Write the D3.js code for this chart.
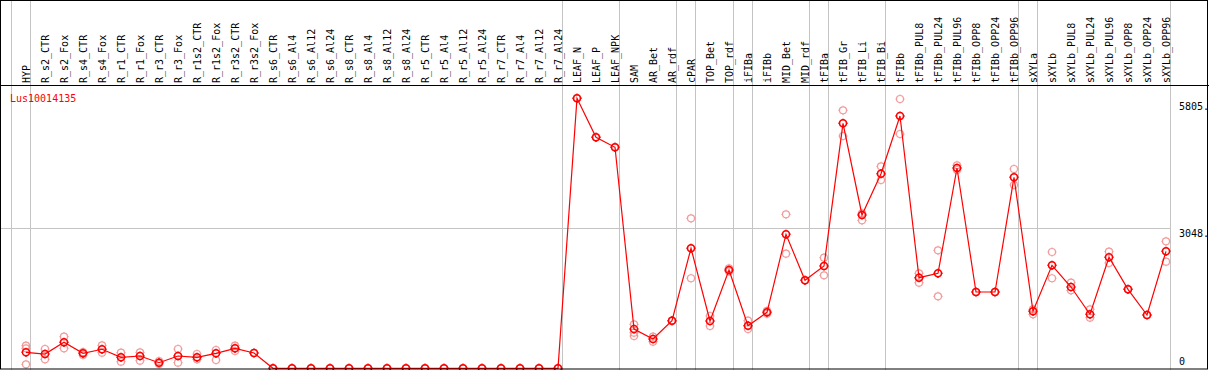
<!DOCTYPE html>
<html>
<head>
<meta charset="utf-8">
<script src="https://cdn.jsdelivr.net/npm/d3@7"></script>
<style>
  body { margin: 0; background: #fff; }
  svg { display: block; font-family: 'DejaVu Sans Mono', monospace; font-size: 10px; }
</style>
</head>
<body>
<div id="chart"></div>
<script>
// sample names along the top
const samples = ['HYP', 'R_s2_CTR', 'R_s2_Fox', 'R_s4_CTR', 'R_s4_Fox', 'R_r1_CTR', 'R_r1_Fox', 'R_r3_CTR', 'R_r3_Fox',
  'R_r1s2_CTR', 'R_r1s2_Fox', 'R_r3s2_CTR', 'R_r3s2_Fox', 'R_s6_CTR', 'R_s6_Al4', 'R_s6_Al12', 'R_s6_Al24',
  'R_s8_CTR', 'R_s8_Al4', 'R_s8_Al12', 'R_s8_Al24', 'R_r5_CTR', 'R_r5_Al4', 'R_r5_Al12', 'R_r5_Al24',
  'R_r7_CTR', 'R_r7_Al4', 'R_r7_Al12', 'R_r7_Al24', 'LEAF_N', 'LEAF_P', 'LEAF_NPK', 'SAM', 'AR_Bet', 'AR_rdf',
  'cPAR', 'TOP_Bet', 'TOP_rdf', 'iFIBa', 'iFIBb', 'MID_Bet', 'MID_rdf', 'tFIBa', 'tFIB_Gr', 'tFIB_Li', 'tFIB_Bi',
  'tFIBb', 'tFIBb_PUL8', 'tFIBb_PUL24', 'tFIBb_PUL96', 'tFIBb_OPP8', 'tFIBb_OPP24', 'tFIBb_OPP96',
  'sXYLa', 'sXYLb', 'sXYLb_PUL8', 'sXYLb_PUL24', 'sXYLb_PUL96', 'sXYLb_OPP8', 'sXYLb_OPP24', 'sXYLb_OPP96']

// mean expression per sample
const meanValues = [348, 311, 566, 326, 414, 240, 268, 122, 268, 240, 326, 435, 333,
  0, 0, 0, 0, 0, 0, 0, 0, 0, 0, 0, 0, 0, 0, 0, 0,
  5878, 5029, 4812, 855, 638, 1036, 2613, 1030, 2140, 927, 1219, 2917, 1916, 2227,
  5334, 3338, 4237, 5493, 1973, 2068, 4361, 1661, 1661, 4158,
  1241, 2242, 1770, 1176, 2417, 1720, 1160, 2547]

// individual replicates
const rep1 = [492, 420, 688, 350, 500, 340, 348, 159, 420, 311, 398, 492, 333,
  0, 0, 0, 0, 0, 0, 0, 0, 0, 0, 0, 0, 0, 0, 0, 0,
  5878, 5029, 4812, 958, 688, 1036, 3266, 1139, 2177, 1036, 1250, 3353, 1916, 2408,
  5617, 3375, 4398, 5863, 2068, 2569, 4420, 1661, 1661, 4339,
  1285, 2532, 1864, 1285, 2539, 1720, 1160, 2765]
const rep2 = [87, 196, 435, 290, 340, 144, 166, 94, 122, 196, 181, 377, 333,
  0, 0, 0, 0, 0, 0, 0, 0, 0, 0, 0, 0, 0, 0, 0, 0,
  5878, 5029, 4812, 703, 579, 1036, 1960, 921, 2110, 856, 1190, 2495, 1916, 2025,
  5058, 3222, 4100, 5101, 1864, 1568, 4317, 1661, 1661, 3991,
  1176, 1960, 1698, 1102, 2293, 1720, 1160, 2321]
const rep3 = [435, 311, 566, 326, 414, 240, 268, 122, 268, 240, 326, 435, 333,
  0, 0, 0, 0, 0, 0, 0, 0, 0, 0, 0, 0, 0, 0, 0, 0,
  5878, 5029, 4812, 775, 638, 1036, 2613, 1030, 2140, 927, 1219, 2917, 1916, 2227,
  5334, 3338, 4237, 5493, 1973, 2068, 4361, 1661, 1661, 4158,
  1241, 2242, 1770, 1176, 2417, 1720, 1160, 2547]

// samples after which a divider is drawn
const groupEnds = ['HYP', 'R_r7_Al24', 'LEAF_NPK', 'AR_rdf', 'cPAR', 'TOP_rdf', 'iFIBa', 'MID_rdf',
  'tFIBa', 'tFIB_Bi', 'tFIBb_OPP96', 'sXYLa', 'sXYLb_OPP96']
const yTicks = [0, 3048, 5805]
const geneName = 'Lus10014135'

const width = 1209
const height = 370
const headerBottom = 85

const svg = d3.select('#chart').append('svg')
  .attr('width', width)
  .attr('height', height)

const xScale = d3.scalePoint()
  .domain(samples)
  .range([26, 1166])

const yScale = d3.scaleLinear()
  .domain([0, 6096])
  .range([368.3, 88.3])

const step = xScale.step()
const plotRight = xScale(samples[samples.length - 1]) + 4

// vertical dividers
const dividerX = [xScale(samples[0]) - step + 4].concat(groupEnds.map(s => xScale(s) + 4))
svg.selectAll('.divider')
  .data(dividerX)
  .enter().append('line')
  .attr('class', 'divider')
  .attr('x1', d => Math.round(d) + 0.5)
  .attr('x2', d => Math.round(d) + 0.5)
  .attr('y1', 0)
  .attr('y2', height)
  .attr('stroke', '#c4c4c4')

// horizontal gridline at the middle tick
svg.append('line')
  .attr('x1', 0)
  .attr('x2', plotRight)
  .attr('y1', Math.round(yScale(yTicks[1])) + 0.5)
  .attr('y2', Math.round(yScale(yTicks[1])) + 0.5)
  .attr('stroke', '#c4c4c4')

// header line
svg.append('line')
  .attr('x1', 0).attr('x2', width)
  .attr('y1', headerBottom + 0.5).attr('y2', headerBottom + 0.5)
  .attr('stroke', '#000')

// sample labels
svg.selectAll('.sample')
  .data(samples)
  .enter().append('text')
  .attr('class', 'sample')
  .attr('transform', d => 'translate(' + (xScale(d) + 3.5) + ',' + (headerBottom - 2) + ') rotate(-90)')
  .attr('fill', '#000')
  .text(d => d)

// y labels
svg.selectAll('.ylabel')
  .data(yTicks)
  .enter().append('text')
  .attr('class', 'ylabel')
  .attr('x', plotRight + 9)
  .attr('y', d => Math.min(yScale(d) + 8.5, yScale(0) - 3))
  .attr('fill', '#000')
  .text(d => d === 0 ? '0' : d + '.')

svg.append('text')
  .attr('x', 10)
  .attr('y', 102)
  .attr('fill', '#f00')
  .text(geneName)

// marker: small circle with short ticks
const markerPath = 'M3.5,0A3.5,3.5 0 1,1 -3.5,0A3.5,3.5 0 1,1 3.5,0' +
  'M0,-3.5V-4.6M0,3.5V4.6M-3.5,0H-4.6M3.5,0H4.6'

const reps = [rep1, rep2, rep3]
reps.forEach(rep => {
  svg.selectAll(null)
    .data(samples.map((s, i) => ({ s, v: rep[i] })))
    .enter().append('path')
    .attr('d', markerPath)
    .attr('transform', d => 'translate(' + xScale(d.s) + ',' + yScale(d.v) + ')')
    .attr('fill', 'none')
    .attr('stroke', '#f29a9a')
    .attr('stroke-width', 1.2)
})

const line = d3.line()
  .x(d => xScale(d.s))
  .y(d => yScale(d.v))

const meanData = samples.map((s, i) => ({ s, v: meanValues[i] }))

svg.append('path')
  .datum(meanData)
  .attr('d', line)
  .attr('fill', 'none')
  .attr('stroke', '#f00')
  .attr('stroke-width', 1.2)

svg.selectAll('.dot')
  .data(meanData)
  .enter().append('path')
  .attr('class', 'dot')
  .attr('d', markerPath)
  .attr('transform', d => 'translate(' + xScale(d.s) + ',' + yScale(d.v) + ')')
  .attr('fill', 'none')
  .attr('stroke', '#f00')
  .attr('stroke-width', 1.5)

// frame
svg.append('rect')
  .attr('x', 0.5).attr('y', 0.5)
  .attr('width', 1207).attr('height', 368.5)
  .attr('fill', 'none')
  .attr('stroke', '#000')
</script>
</body>
</html>
